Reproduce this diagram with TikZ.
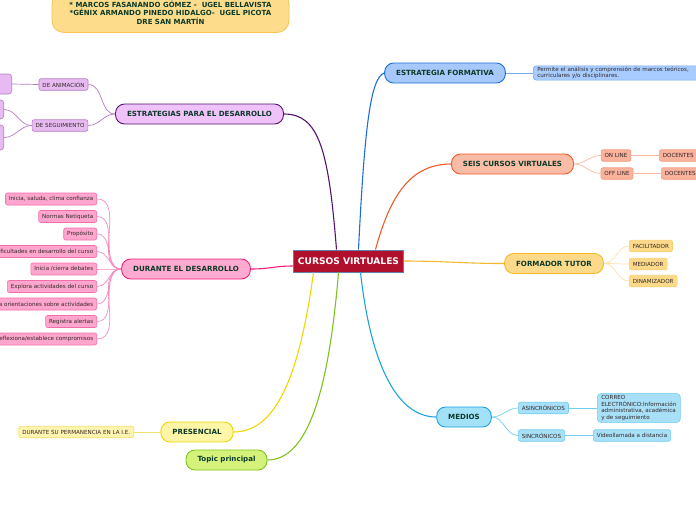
\documentclass[tikz,border=0pt]{standalone}
\usepackage{fontspec}
\setmainfont{DejaVu Sans}
\usetikzlibrary{positioning, shapes, arrows.meta, calc}

\begin{document}
\begin{tikzpicture}[x=1pt, y=-1pt, font=\fontsize{5.6}{6.6}\selectfont]
  \definecolor{txt}{RGB}{12, 58, 40} \definecolor{leaftxt}{RGB}{50, 40, 40}
  \definecolor{cv}{RGB}{176, 16, 44} \definecolor{cvD}{RGB}{96, 128, 176}
  \definecolor{ctop}{RGB}{253, 220, 140} \definecolor{ctopD}{RGB}{246, 196, 80}
  \definecolor{cviol}{RGB}{240, 194, 250} \definecolor{cviolD}{RGB}{84, 20, 110} \definecolor{cviolL}{RGB}{232, 186, 242} \definecolor{cviolM}{RGB}{180, 124, 200}
  \definecolor{cpink}{RGB}{255, 170, 208} \definecolor{cpinkD}{RGB}{240, 30, 122} \definecolor{cpinkL}{RGB}{255, 166, 206} \definecolor{cpinkM}{RGB}{244, 110, 172}
  \definecolor{cblue}{RGB}{166, 200, 250} \definecolor{cblueD}{RGB}{30, 110, 216} \definecolor{cblueL}{RGB}{168, 204, 255} \definecolor{cblueM}{RGB}{120, 170, 240}
  \definecolor{corng}{RGB}{249, 188, 166} \definecolor{corngD}{RGB}{240, 90, 40} \definecolor{corngL}{RGB}{249, 178, 156} \definecolor{corngM}{RGB}{247, 155, 125}
  \definecolor{cgold}{RGB}{253, 217, 138} \definecolor{cgoldD}{RGB}{245, 184, 44} \definecolor{cgoldM}{RGB}{248, 207, 112}
  \definecolor{ccyan}{RGB}{162, 225, 248} \definecolor{ccyanD}{RGB}{26, 163, 224} \definecolor{ccyanL}{RGB}{168, 224, 248} \definecolor{ccyanM}{RGB}{116, 204, 240}
  \definecolor{cyel}{RGB}{255, 246, 168} \definecolor{cyelD}{RGB}{242, 214, 0} \definecolor{cyelL}{RGB}{255, 244, 176} \definecolor{cyelM}{RGB}{245, 224, 112}
  \definecolor{cgrn}{RGB}{212, 242, 122} \definecolor{cgrnD}{RGB}{127, 194, 30}
  \tikzset{
    topic/.style={draw, line width=0.9pt, rounded corners=9pt, minimum height=20pt, inner xsep=11.5pt, text=txt, font=\bfseries\fontsize{7.1}{8.5}\selectfont},
    leaf/.style={draw, line width=0.6pt, rounded corners=2pt, minimum height=11.5pt, inner xsep=3.5pt, inner ysep=1pt, text=leaftxt},
    link/.style={line width=1.1pt},
    sublink/.style={line width=0.7pt}
  }
  \clip (0,0) rectangle (696,520);

  % centre and authors
  \node[draw=cvD, fill=cv, line width=1pt, text=white, font=\bfseries\fontsize{9.1}{11}\selectfont, minimum width=109pt, minimum height=22pt, inner xsep=4pt] (cv) at (348.5,261) {CURSOS VIRTUALES};
  \node[draw=ctopD, fill=ctop, line width=0.8pt, rounded corners=12pt, minimum width=237pt, minimum height=40pt, align=center, text=txt, font=\bfseries\fontsize{7}{8.6}\selectfont] (auth) at (170.5,12.5) {* MARCOS FASANANDO GÓMEZ -\ \ UGEL BELLAVISTA\\*GÉNIX ARMANDO PINEDO HIDALGO-\ \ UGEL PICOTA\\DRE SAN MARTÍN};

  % main topics
  \node[topic, fill=cblue, draw=cblueD] (ef) at (445,73) {ESTRATEGIA FORMATIVA};
  \node[topic, fill=corng, draw=corngD] (scv) at (512.5,164) {SEIS CURSOS VIRTUALES};
  \node[topic, fill=cgold, draw=cgoldD] (ft) at (554,263.5) {FORMADOR TUTOR};
  \node[topic, fill=ccyan, draw=ccyanD] (med) at (464,417) {MEDIOS};
  \node[topic, fill=cyel, draw=cyelD] (pres) at (197,432) {PRESENCIAL};
  \node[topic, fill=cgrn, draw=cgrnD] (tp) at (226.5,460) {Topic principal};
  \node[topic, fill=cpink, draw=cpinkD] (ded) at (186,269) {DURANTE EL DESARROLLO};
  \node[topic, fill=cviol, draw=cviolD] (esd) at (199.5,114) {ESTRATEGIAS PARA EL DESARROLLO};

  \draw[link, cblueD] ([xshift=10pt]cv.north) .. controls +(6,-120) and +(-14,5) .. (ef.west);
  \draw[link, corngD] ([xshift=27pt]cv.north) .. controls +(15,-55) and +(-40,0) .. (scv.west);
  \draw[link, cgoldD] (cv.east) .. controls +(40,0) and +(-40,0) .. (ft.west);
  \draw[link, ccyanD] ([xshift=12pt]cv.south) .. controls +(10,90) and +(-40,0) .. (med.west);
  \draw[link, cyelD] ([xshift=-35pt]cv.south) .. controls +(-15,110) and +(40,0) .. (pres.east);
  \draw[link, cgrnD] ([xshift=-10pt]cv.south) .. controls +(-10,120) and +(40,0) .. (tp.east);
  \draw[link, cpinkD] ([yshift=-5pt]cv.west) .. controls +(-20,0) and +(20,0) .. (ded.east);
  \draw[link, cviolD] ([xshift=-12pt]cv.north) .. controls +(-8,-100) and +(35,0) .. (esd.east);

  % estrategia formativa
  \node[leaf, fill=cblueL, draw=cblueM, anchor=west, align=left, text width=165pt, inner xsep=4pt, rounded corners=3pt] (ef1) at (533,73) {Permite el análisis y comprensión de marcos teóricos,\\curriculares y/o disciplinares.};
  \draw[sublink, cblueM] (ef.east) -- (ef1.west);

  % seis cursos virtuales
  \node[leaf, fill=corngL, draw=corngM] (onl) at (616,155.5) {ON LINE};
  \node[leaf, fill=corngL, draw=corngM] (offl) at (617,173.5) {OFF LINE};
  \node[leaf, fill=corngL, draw=corngM, anchor=west, text width=40pt, align=left] (doc1) at (659,155.5) {DOCENTES};
  \node[leaf, fill=corngL, draw=corngM, anchor=west, text width=40pt, align=left] (doc2) at (661,173.5) {DOCENTES};
  \draw[sublink, corngM!70] (scv.east) to[out=0, in=180] (onl.west);
  \draw[sublink, corngM!70] (scv.east) to[out=0, in=180] (offl.west);
  \draw[sublink, corngM!70] (onl.east) -- (doc1.west);
  \draw[sublink, corngM!70] (offl.east) -- (doc2.west);

  % formador tutor
  \node[leaf, fill=cgold, draw=cgoldM, anchor=west] (fac) at (629,246) {FACILITADOR};
  \node[leaf, fill=cgold, draw=cgoldM, anchor=west] (mdr) at (629,264) {MEDIADOR};
  \node[leaf, fill=cgold, draw=cgoldM, anchor=west] (din) at (629,281) {DINAMIZADOR};
  \foreach \n in {fac, mdr, din}
    \draw[sublink, cgoldM!60] (ft.east) to[out=0, in=180] (\n.west);

  % medios
  \node[leaf, fill=ccyanL, draw=ccyanM, anchor=west] (asin) at (518,408) {ASINCRÓNICOS};
  \node[leaf, fill=ccyanL, draw=ccyanM, anchor=west] (sin) at (518,435.5) {SINCRÓNICOS};
  \node[leaf, fill=ccyanL, draw=ccyanM, anchor=west, align=left, rounded corners=4pt, inner xsep=4pt, inner ysep=2pt] (correo) at (597,408) {CORREO\\ELECTRÓNICO:Información\\administrativa, académica\\y de seguimiento};
  \node[leaf, fill=ccyanL, draw=ccyanM, anchor=west] (video) at (593,435.5) {Videollamada a distancia};
  \draw[sublink, ccyanM] (med.east) to[out=0, in=180] (asin.west);
  \draw[sublink, ccyanM] (med.east) to[out=0, in=180] (sin.west);
  \draw[sublink, ccyanM] (asin.east) -- (correo.west);
  \draw[sublink, ccyanM] (sin.east) -- (video.west);

  % presencial
  \node[leaf, fill=cyelL, draw=cyelM, anchor=east] (perm) at (134,432) {DURANTE SU PERMANENCIA EN LA I.E.};
  \draw[sublink, cyelM] (pres.west) -- (perm.east);

  % durante el desarrollo
  \foreach \t [count=\i] in {{Inicia, saluda, clima confianza}, Normas Netiqueta, Propósito, Dificultades en desarrollo del curso, Inicia /cierra debates, Explora actividades del curso, Brinda orientaciones sobre actividades, Registra alertas, Reflexiona/establece compromisos}{
    \node[leaf, fill=cpinkL, draw=cpinkM, anchor=east, minimum height=12pt] (d\i) at (97,181.5+17.5*\i) {\t};
    \draw[sublink, cpinkM!80] (ded.west) to[out=180, in=0] (d\i.east);
  }

  % estrategias para el desarrollo
  \node[leaf, fill=cviolL, draw=cviolM] (anim) at (63.5,84.5) {DE ANIMACIÓN};
  \node[leaf, fill=cviolL, draw=cviolM] (seg) at (60,125.5) {DE SEGUIMIENTO};
  \node[leaf, fill=cviolL, draw=cviolM, anchor=east, minimum width=40pt, minimum height=20pt, rounded corners=3pt] (anim1) at (12,84) {};
  \node[leaf, fill=cviolL, draw=cviolM, anchor=east, minimum width=40pt, minimum height=19pt, rounded corners=3pt] (seg1) at (4,109.5) {};
  \node[leaf, fill=cviolL, draw=cviolM, anchor=east, minimum width=40pt, minimum height=25pt, rounded corners=3pt] (seg2) at (4,137.5) {};
  \draw[sublink, cviolM] (esd.west) to[out=180, in=0] (anim.east);
  \draw[sublink, cviolM] (esd.west) to[out=180, in=0] (seg.east);
  \draw[sublink, cviolM] (anim.west) -- (anim1.east);
  \draw[sublink, cviolM] (seg.west) to[out=180, in=0] (seg1.east);
  \draw[sublink, cviolM] (seg.west) to[out=180, in=0] (seg2.east);
\end{tikzpicture}
\end{document}
